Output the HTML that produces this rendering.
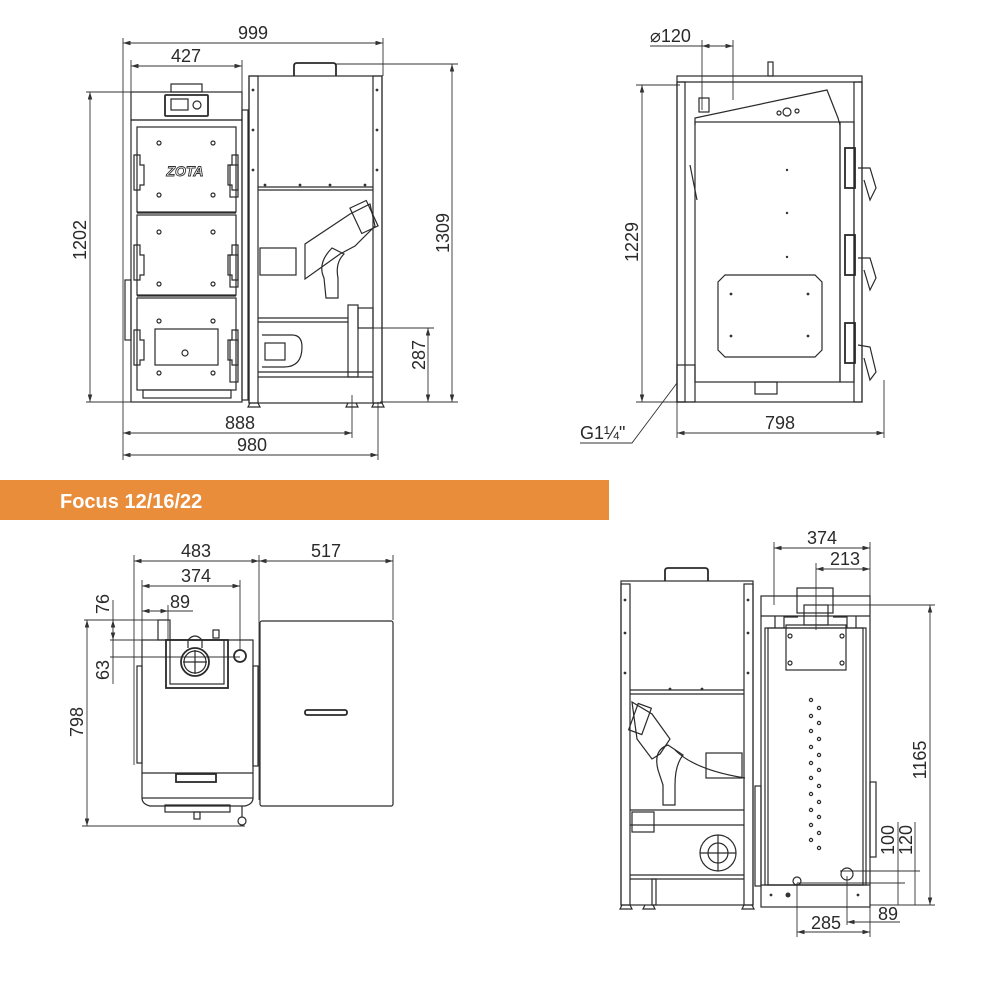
<!DOCTYPE html>
<html><head><meta charset="utf-8"><style>
html,body{margin:0;padding:0;background:#fff;width:1000px;height:1000px;overflow:hidden}
svg{display:block}
text{font-family:"Liberation Sans Narrow","Liberation Sans",sans-serif;font-size:18px;fill:#2a2a2a}
.l{stroke:#2a2a2a;stroke-width:1.2;fill:none}
.t{stroke:#2a2a2a;stroke-width:1.8;fill:none}
.d{stroke:#333;stroke-width:0.9;fill:none}
.dot{fill:#333}
</style></head><body>
<svg width="1000" height="1000" viewBox="0 0 1000 1000" xmlns="http://www.w3.org/2000/svg">
<defs>
<marker id="a" viewBox="0 0 10 6" refX="10" refY="3" markerWidth="9" markerHeight="5" orient="auto-start-reverse"><path d="M0,0L10,3L0,6z" fill="#333"/></marker>
</defs>

<!-- ========== TOP LEFT: front view ========== -->
<line class="d" x1="123" y1="43" x2="383" y2="43" marker-start="url(#a)" marker-end="url(#a)"/>
<text x="253" y="39" text-anchor="middle">999</text>
<line class="d" x1="123" y1="38" x2="123" y2="460"/>
<line class="d" x1="383" y1="38" x2="383" y2="76"/>
<line class="d" x1="131" y1="66" x2="242" y2="66" marker-start="url(#a)" marker-end="url(#a)"/>
<text x="186" y="62" text-anchor="middle">427</text>
<line class="d" x1="131" y1="60" x2="131" y2="120"/>
<line class="d" x1="242" y1="60" x2="242" y2="92"/>
<line class="d" x1="90" y1="92" x2="90" y2="402" marker-start="url(#a)" marker-end="url(#a)"/>
<line class="d" x1="86" y1="92" x2="175" y2="92"/>
<line class="d" x1="86" y1="402" x2="131" y2="402"/>
<text transform="translate(86,240) rotate(-90)" text-anchor="middle">1202</text>
<line class="d" x1="452" y1="64" x2="452" y2="402" marker-start="url(#a)" marker-end="url(#a)"/>
<line class="d" x1="336" y1="64" x2="458" y2="64"/>
<line class="d" x1="380" y1="402" x2="458" y2="402"/>
<text transform="translate(449,233) rotate(-90)" text-anchor="middle">1309</text>
<line class="d" x1="428" y1="328" x2="428" y2="402" marker-start="url(#a)" marker-end="url(#a)"/>
<line class="d" x1="372" y1="328" x2="434" y2="328"/>
<text transform="translate(425,355) rotate(-90)" text-anchor="middle">287</text>
<line class="d" x1="123" y1="433" x2="352" y2="433" marker-start="url(#a)" marker-end="url(#a)"/>
<line class="d" x1="352" y1="395" x2="352" y2="438"/>
<text x="240" y="429" text-anchor="middle">888</text>
<line class="d" x1="123" y1="455" x2="378" y2="455" marker-start="url(#a)" marker-end="url(#a)"/>
<line class="d" x1="378" y1="402" x2="378" y2="460"/>
<text x="252" y="451" text-anchor="middle">980</text>

<rect class="l" x="171" y="84" width="31" height="8"/>
<rect class="l" x="131" y="92" width="111" height="28"/>
<rect class="t" x="165" y="95" width="43" height="21" rx="1"/>
<rect class="l" x="171" y="99" width="17" height="11"/>
<circle class="l" cx="197" cy="105" r="4"/>
<rect class="l" x="131" y="120" width="111" height="282"/>
<rect class="l" x="137" y="127" width="99" height="85"/>
<rect class="l" x="137" y="215" width="99" height="80"/>
<rect class="l" x="137" y="298" width="99" height="92"/>
<line class="l" x1="137" y1="213" x2="236" y2="213"/>
<line class="l" x1="137" y1="296" x2="236" y2="296"/>
<rect class="l" x="143" y="390" width="88" height="8"/>
<text x="185" y="176" text-anchor="middle" style="font-size:14px;font-weight:bold;font-style:italic;fill:#fff;stroke:#333;stroke-width:0.9">ZOTA</text>
<rect class="l" x="155" y="329" width="63" height="36"/>
<circle class="l" cx="185" cy="353" r="3"/>
<g class="l">
<circle cx="159" cy="143" r="2"/><circle cx="213" cy="143" r="2"/><circle cx="159" cy="195" r="2"/><circle cx="213" cy="195" r="2"/>
<circle cx="159" cy="232" r="2"/><circle cx="213" cy="232" r="2"/><circle cx="159" cy="284" r="2"/><circle cx="213" cy="284" r="2"/>
<circle cx="159" cy="321" r="2"/><circle cx="213" cy="321" r="2"/><circle cx="159" cy="373" r="2"/><circle cx="213" cy="373" r="2"/>
</g>
<g class="l">
<path d="M134,155 h6 v10 h4 v20 h-4 v5 h-6z"/><path d="M134,245 h6 v10 h4 v20 h-4 v5 h-6z"/><path d="M134,330 h6 v10 h4 v20 h-4 v5 h-6z"/>
<path d="M238,155 h-6 v10 h-4 v20 h4 v5 h6z"/><path d="M238,245 h-6 v10 h-4 v20 h4 v5 h6z"/><path d="M238,330 h-6 v10 h-4 v20 h4 v5 h6z"/>
<rect x="230" y="165" width="8" height="32"/><rect x="230" y="255" width="8" height="32"/><rect x="230" y="340" width="8" height="42"/>
<rect x="125" y="280" width="6" height="60"/>
<rect x="242" y="110" width="6" height="290"/>
</g>

<path class="t" d="M294,76 v-10 q0,-3 3,-3 h36 q3,0 3,3 v10"/>
<rect class="l" x="249" y="76" width="133" height="327"/>
<rect class="l" x="249" y="76" width="9" height="327"/>
<rect class="l" x="373" y="76" width="9" height="327"/>
<line class="l" x1="258" y1="187" x2="373" y2="187"/>
<line class="l" x1="258" y1="190" x2="373" y2="190"/>
<rect class="l" x="260" y="248" width="36" height="27"/>
<path class="l" d="M305,279 l0,-35 l45,-30 l20,-10 l5,22 l-20,20 l-15,8 z"/>
<rect class="l" x="355" y="203" width="18" height="28" transform="rotate(-25 364 217)"/>
<path class="l" d="M332,248 q-15,15 -8,30 l2,20 h12 l0,-20 q-3,-15 6,-24 z"/>
<line class="l" x1="258" y1="318" x2="348" y2="318"/>
<line class="l" x1="258" y1="322" x2="348" y2="322"/>
<rect class="l" x="348" y="305" width="10" height="72"/>
<rect class="l" x="358" y="308" width="15" height="20"/>
<path class="l" d="M262,335 h30 q10,0 10,12 q0,20 -18,20 h-22"/>
<rect class="l" x="265" y="343" width="20" height="17"/>
<line class="l" x1="258" y1="372" x2="373" y2="372"/>
<line class="l" x1="258" y1="377" x2="373" y2="377"/>
<g class="dot"><circle cx="253" cy="90" r="1.4"/><circle cx="253" cy="130" r="1.4"/><circle cx="253" cy="170" r="1.4"/><circle cx="377" cy="90" r="1.4"/><circle cx="377" cy="130" r="1.4"/><circle cx="377" cy="170" r="1.4"/><circle cx="265" cy="185" r="1.4"/><circle cx="300" cy="185" r="1.4"/><circle cx="330" cy="185" r="1.4"/><circle cx="365" cy="185" r="1.4"/></g>
<g class="l"><path d="M250,403 l-2,4 h12 l-2,-4"/><path d="M348,403 l-2,4 h12 l-2,-4"/><path d="M374,403 l-2,4 h12 l-2,-4"/></g>

<!-- ========== TOP RIGHT: side view ========== -->
<text x="650" y="42">⌀120</text>
<line class="d" x1="650" y1="46" x2="733" y2="46"/>
<line class="d" x1="702" y1="46" x2="733" y2="46" marker-start="url(#a)" marker-end="url(#a)"/>
<line class="d" x1="702" y1="40" x2="702" y2="110"/>
<line class="d" x1="733" y1="40" x2="733" y2="100"/>
<line class="d" x1="642" y1="85" x2="642" y2="402" marker-start="url(#a)" marker-end="url(#a)"/>
<line class="d" x1="636" y1="85" x2="680" y2="85"/>
<line class="d" x1="636" y1="402" x2="680" y2="402"/>
<text transform="translate(638,242) rotate(-90)" text-anchor="middle">1229</text>
<line class="d" x1="677" y1="433" x2="884" y2="433" marker-start="url(#a)" marker-end="url(#a)"/>
<line class="d" x1="677" y1="395" x2="677" y2="438"/>
<line class="d" x1="884" y1="380" x2="884" y2="438"/>
<text x="780" y="429" text-anchor="middle">798</text>
<text x="580" y="439">G1¼"</text>
<polyline class="d" points="580,443 632,443 677,383"/>

<rect class="l" x="677" y="76" width="185" height="326"/>
<line class="l" x1="677" y1="82" x2="862" y2="82"/>
<rect class="l" x="677" y="82" width="8" height="320"/>
<rect class="l" x="854" y="82" width="8" height="320"/>
<rect class="l" x="768" y="62" width="5" height="14"/>
<rect class="l" x="699" y="98" width="10" height="14"/>
<path class="l" d="M695,125 L695,118 L827,90 L838,118 L840,125"/>
<rect class="l" x="695" y="122" width="145" height="260"/>
<circle class="l" cx="787" cy="112" r="4"/><circle class="l" cx="779" cy="113" r="2"/><circle class="l" cx="797" cy="111" r="2"/>
<path class="l" d="M725,275 h90 l7,7 v68 l-7,7 h-90 l-7,-7 v-68 z"/>
<g class="dot"><circle cx="787" cy="170" r="1.2"/><circle cx="787" cy="213" r="1.2"/><circle cx="787" cy="257" r="1.2"/><circle cx="731" cy="294" r="1.4"/><circle cx="808" cy="294" r="1.4"/><circle cx="731" cy="336" r="1.4"/><circle cx="808" cy="336" r="1.4"/></g>
<rect class="l" x="840" y="122" width="14" height="260"/>
<rect class="t" x="845" y="148" width="10" height="40"/>
<rect class="t" x="845" y="235" width="10" height="40"/>
<rect class="t" x="845" y="323" width="10" height="40"/>
<path class="l" d="M858,168 l12,0 l6,20 l-6,12 l-6,-20"/>
<path class="l" d="M858,258 l12,0 l6,20 l-6,12 l-6,-20"/>
<path class="l" d="M858,345 l12,2 l6,25 l-6,8 l-6,-22"/>
<rect class="l" x="677" y="365" width="18" height="37"/>
<rect class="l" x="755" y="382" width="22" height="12"/>
<line class="l" x1="690" y1="165" x2="697" y2="200"/>

<!-- ========== Banner ========== -->
<rect x="0" y="480" width="609" height="40" fill="#E98D3B"/>
<text x="60" y="508" style="font-family:'Liberation Sans',sans-serif;font-size:20px;font-weight:bold;fill:#fff">Focus 12/16/22</text>

<!-- ========== BOTTOM LEFT: top view ========== -->
<line class="d" x1="134" y1="561" x2="259" y2="561" marker-start="url(#a)" marker-end="url(#a)"/>
<text x="196" y="557" text-anchor="middle">483</text>
<line class="d" x1="259" y1="561" x2="393" y2="561" marker-start="url(#a)" marker-end="url(#a)"/>
<text x="326" y="557" text-anchor="middle">517</text>
<line class="d" x1="134" y1="555" x2="134" y2="765"/>
<line class="d" x1="259" y1="555" x2="259" y2="800"/>
<line class="d" x1="393" y1="555" x2="393" y2="620"/>
<line class="d" x1="142" y1="586" x2="240" y2="586" marker-start="url(#a)" marker-end="url(#a)"/>
<text x="196" y="582" text-anchor="middle">374</text>
<line class="d" x1="142" y1="580" x2="142" y2="640"/>
<line class="d" x1="240" y1="580" x2="240" y2="650"/>
<line class="d" x1="142" y1="611" x2="193" y2="611"/>
<line class="d" x1="142" y1="611" x2="168" y2="611" marker-start="url(#a)" marker-end="url(#a)"/>
<text x="180" y="608" text-anchor="middle">89</text>
<line class="d" x1="168" y1="605" x2="168" y2="640"/>
<line class="d" x1="113" y1="620" x2="113" y2="640" marker-start="url(#a)" marker-end="url(#a)"/>
<line class="d" x1="113" y1="640" x2="113" y2="657"/>
<line class="d" x1="113" y1="600" x2="113" y2="684"/>
<line class="d" x1="84" y1="620" x2="170" y2="620"/>
<line class="d" x1="110" y1="640" x2="168" y2="640"/>
<line class="d" x1="110" y1="657" x2="240" y2="657"/>
<text transform="translate(109,604) rotate(-90)" text-anchor="middle">76</text>
<text transform="translate(109,670) rotate(-90)" text-anchor="middle">63</text>
<line class="d" x1="87" y1="620" x2="87" y2="826" marker-start="url(#a)" marker-end="url(#a)"/>
<line class="d" x1="82" y1="826" x2="245" y2="826"/>
<text transform="translate(83,722) rotate(-90)" text-anchor="middle">798</text>

<rect class="l" x="158" y="620" width="12" height="20"/>
<rect class="l" x="142" y="640" width="111" height="158"/>
<rect class="t" x="166" y="640" width="62" height="48"/>
<rect class="l" x="170" y="640" width="54" height="44"/>
<circle class="t" cx="195" cy="662" r="14"/><circle class="l" cx="195" cy="662" r="11"/>
<line class="l" x1="195" y1="650" x2="195" y2="674"/><line class="l" x1="183" y1="662" x2="207" y2="662"/>
<path class="l" d="M188,648 v-8 q7,-8 14,0 v8"/>
<circle class="t" cx="240" cy="656" r="6"/>
<rect class="l" x="213" y="630" width="6" height="8"/>
<rect class="l" x="137" y="666" width="5" height="97"/>
<rect class="l" x="253" y="666" width="5" height="100"/>
<line class="l" x1="142" y1="773" x2="253" y2="773"/>
<rect class="t" x="176" y="774" width="40" height="8"/>
<path class="l" d="M142,798 q0,6 8,8 h95 q8,-2 8,-8"/>
<rect class="l" x="165" y="805" width="65" height="7"/>
<rect class="l" x="194" y="812" width="6" height="7"/>
<circle class="l" cx="242" cy="821" r="4"/><line class="l" x1="242" y1="806" x2="242" y2="817"/>
<rect class="l" x="260" y="621" width="133" height="185" rx="2"/>
<rect class="t" x="305" y="710" width="42" height="5" rx="2"/>

<!-- ========== BOTTOM RIGHT: back view ========== -->
<line class="d" x1="774" y1="548" x2="870" y2="548" marker-start="url(#a)" marker-end="url(#a)"/>
<text x="822" y="544" text-anchor="middle">374</text>
<line class="d" x1="774" y1="542" x2="774" y2="605"/>
<line class="d" x1="870" y1="542" x2="870" y2="596"/>
<line class="d" x1="816" y1="569" x2="870" y2="569" marker-start="url(#a)" marker-end="url(#a)"/>
<text x="845" y="565" text-anchor="middle">213</text>
<line class="d" x1="816" y1="563" x2="816" y2="630"/>
<line class="d" x1="930" y1="605" x2="930" y2="905" marker-start="url(#a)" marker-end="url(#a)"/>
<line class="d" x1="820" y1="605" x2="935" y2="605"/>
<line class="d" x1="870" y1="905" x2="935" y2="905"/>
<text transform="translate(926,760) rotate(-90)" text-anchor="middle">1165</text>
<line class="d" x1="898" y1="822" x2="898" y2="905"/>
<line class="d" x1="915" y1="822" x2="915" y2="905"/>
<line class="d" x1="840" y1="871" x2="920" y2="871"/>
<line class="d" x1="797" y1="883" x2="905" y2="883"/>
<text transform="translate(894,840) rotate(-90)" text-anchor="middle">100</text>
<text transform="translate(912,840) rotate(-90)" text-anchor="middle">120</text>
<line class="d" x1="797" y1="932" x2="870" y2="932" marker-start="url(#a)" marker-end="url(#a)"/>
<text x="826" y="929" text-anchor="middle">285</text>
<line class="d" x1="797" y1="883" x2="797" y2="937"/>
<line class="d" x1="847" y1="876" x2="847" y2="925"/>
<line class="d" x1="847" y1="922" x2="870" y2="922" marker-start="url(#a)"/>
<line class="d" x1="870" y1="922" x2="900" y2="922"/>
<text x="888" y="920" text-anchor="middle">89</text>
<line class="d" x1="870" y1="905" x2="870" y2="937"/>

<path class="t" d="M665,581 v-10 q0,-3 3,-3 h37 q3,0 3,3 v10"/>
<rect class="l" x="621" y="581" width="132" height="324"/>
<rect class="l" x="621" y="584" width="9" height="321"/>
<rect class="l" x="744" y="584" width="9" height="321"/>
<line class="l" x1="630" y1="690" x2="744" y2="690"/>
<line class="l" x1="630" y1="694" x2="744" y2="694"/>
<g class="dot"><circle cx="625" cy="600" r="1.4"/><circle cx="625" cy="633" r="1.4"/><circle cx="625" cy="673" r="1.4"/><circle cx="748" cy="600" r="1.4"/><circle cx="748" cy="633" r="1.4"/><circle cx="748" cy="673" r="1.4"/><circle cx="670" cy="689" r="1.4"/><circle cx="702" cy="689" r="1.4"/></g>
<path class="l" d="M632,702 l20,12 l18,25 l-10,15 l-8,5 l-15,-20 z"/>
<rect class="l" x="633" y="705" width="14" height="28" transform="rotate(20 640 719)"/>
<path class="l" d="M668,745 q-15,5 -10,25 l5,15 v20 h12 v-20 q0,-20 8,-30 z"/>
<path class="l" d="M675,750 q20,20 70,28"/>
<rect class="l" x="706" y="753" width="36" height="25"/>
<line class="l" x1="630" y1="810" x2="744" y2="810"/>
<line class="l" x1="630" y1="825" x2="744" y2="825"/>
<rect class="l" x="632" y="812" width="22" height="20"/>
<circle class="l" cx="718" cy="853" r="18"/><circle class="l" cx="718" cy="853" r="10"/>
<line class="l" x1="700" y1="853" x2="736" y2="853"/><line class="l" x1="718" y1="835" x2="718" y2="871"/>
<line class="l" x1="630" y1="875" x2="744" y2="875"/>
<line class="l" x1="630" y1="879" x2="744" y2="879"/>
<rect class="l" x="652" y="879" width="4" height="26"/>
<g class="l"><path d="M622,905 l-2,4 h12 l-2,-4"/><path d="M645,905 l-2,4 h12 l-2,-4"/><path d="M744,905 l-2,4 h12 l-2,-4"/></g>

<rect class="l" x="761" y="596" width="109" height="311"/>
<rect class="l" x="797" y="588" width="36" height="25"/>
<rect class="l" x="804" y="605" width="24" height="20"/>
<path class="l" d="M761,616 h109"/>
<path class="l" d="M775,628 v-12 M856,628 v-12 M784,628 v-11 h14 M847,628 v-11 h-14"/>
<rect class="l" x="765" y="628" width="101" height="257"/>
<rect class="l" x="768" y="628" width="95" height="257"/>
<rect class="l" x="786" y="625" width="60" height="45"/>
<g class="l"><circle cx="790" cy="636" r="2"/><circle cx="842" cy="636" r="2"/><circle cx="790" cy="663" r="2"/><circle cx="842" cy="663" r="2"/></g>
<g class="l">
<circle cx="811" cy="700" r="1.6"/><circle cx="819" cy="708" r="1.6"/><circle cx="811" cy="716" r="1.6"/><circle cx="819" cy="723" r="1.6"/><circle cx="811" cy="731" r="1.6"/><circle cx="819" cy="739" r="1.6"/><circle cx="811" cy="747" r="1.6"/><circle cx="819" cy="755" r="1.6"/><circle cx="811" cy="763" r="1.6"/><circle cx="819" cy="770" r="1.6"/><circle cx="811" cy="778" r="1.6"/><circle cx="819" cy="786" r="1.6"/><circle cx="811" cy="794" r="1.6"/><circle cx="819" cy="802" r="1.6"/><circle cx="811" cy="810" r="1.6"/><circle cx="819" cy="817" r="1.6"/><circle cx="811" cy="825" r="1.6"/><circle cx="819" cy="833" r="1.6"/><circle cx="811" cy="840" r="1.6"/><circle cx="819" cy="848" r="1.6"/>
</g>
<rect class="l" x="870" y="782" width="6" height="75"/>
<circle class="l" cx="797" cy="881" r="4"/>
<circle class="l" cx="847" cy="874" r="6"/>
<line class="l" x1="761" y1="885" x2="870" y2="885"/>
<g class="dot"><circle cx="771" cy="895" r="1.4"/><circle cx="788" cy="895" r="2.5"/><circle cx="858" cy="895" r="1.4"/></g>
<rect class="l" x="755" y="786" width="6" height="100"/>
</svg>
</body></html>
